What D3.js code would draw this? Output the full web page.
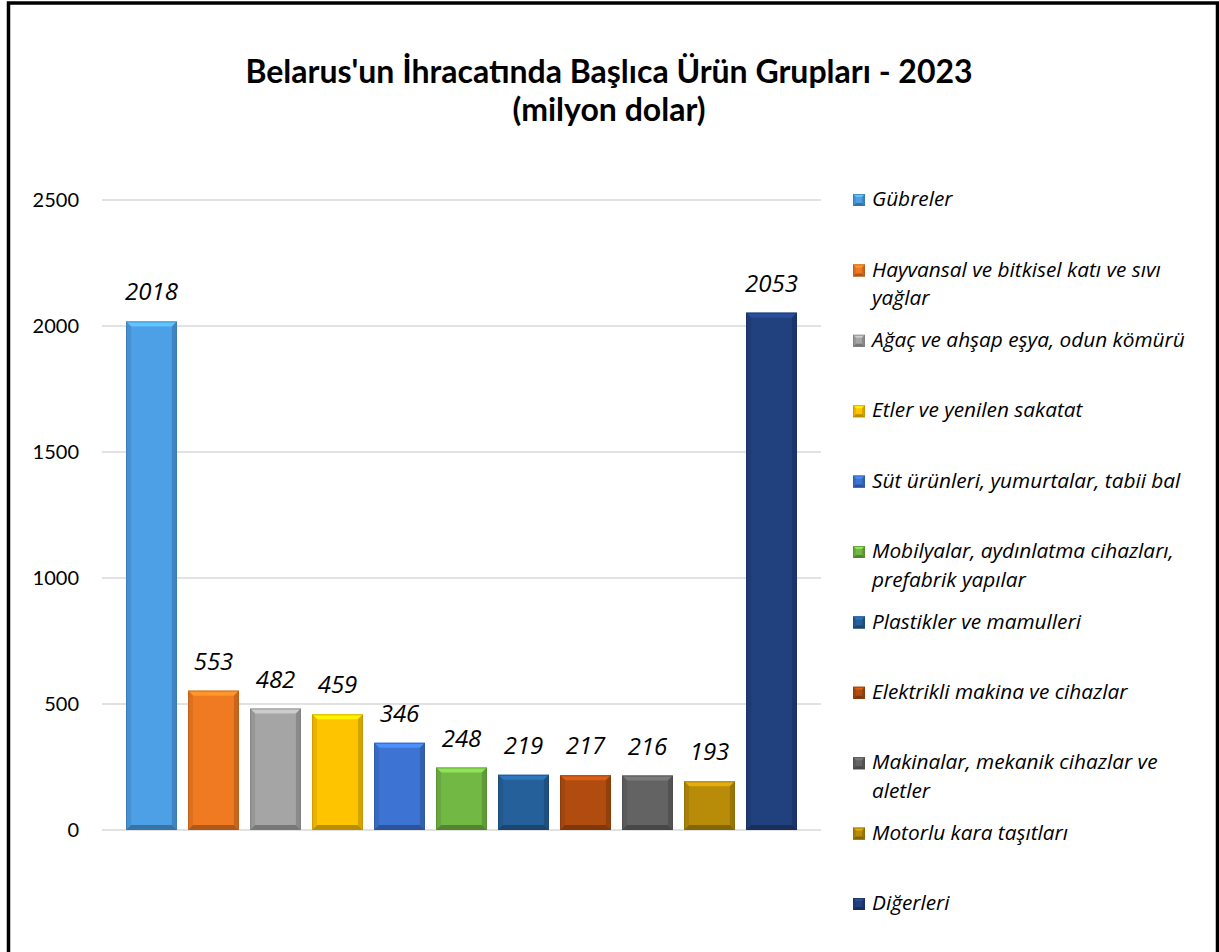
<!DOCTYPE html>
<html><head><meta charset="utf-8">
<script src="https://cdn.jsdelivr.net/npm/d3@7"></script>
<style>body{margin:0;background:#fff}svg{display:block}</style>
</head><body>
<script>
const categories = ["Gübreler","Hayvansal ve bitkisel katı ve sıvı yağlar","Ağaç ve ahşap eşya, odun kömürü","Etler ve yenilen sakatat","Süt ürünleri, yumurtalar, tabii bal","Mobilyalar, aydınlatma cihazları, prefabrik yapılar","Plastikler ve mamulleri","Elektrikli makina ve cihazlar","Makinalar, mekanik cihazlar ve aletler","Motorlu kara taşıtları","Diğerleri"];
const legendLines = [["Gübreler"],["Hayvansal ve bitkisel katı ve sıvı","yağlar"],["Ağaç ve ahşap eşya, odun kömürü"],["Etler ve yenilen sakatat"],["Süt ürünleri, yumurtalar, tabii bal"],["Mobilyalar, aydınlatma cihazları,","prefabrik yapılar"],["Plastikler ve mamulleri"],["Elektrikli makina ve cihazlar"],["Makinalar, mekanik cihazlar ve","aletler"],["Motorlu kara taşıtları"],["Diğerleri"]];
const values = [2018,553,482,459,346,248,219,217,216,193,2053];
const colors = ["#4d9fe6","#f07a22","#a5a5a5","#ffc400","#3d74d4","#72b844","#25609a","#b04c10","#636363","#b88c08","#21407e"];
const yTicks = [0,500,1000,1500,2000,2500];
const titleLines = ["Belarus'un İhracatında Başlıca Ürün Grupları - 2023","(milyon dolar)"];

const W=1219,H=952;
const svg=d3.select("body").append("svg").attr("width",W).attr("height",H);
const font="Lato, 'Noto Sans', sans-serif";
const font2="'Open Sans', 'Noto Sans', sans-serif";

svg.append("rect").attr("x",8.5).attr("y",3).attr("width",1209).attr("height",960)
  .attr("fill","#fff").attr("stroke","#000").attr("stroke-width",3.5);

svg.append("g").selectAll("text").data(titleLines).join("text")
  .attr("x",609).attr("y",(d,i)=>83+i*38).attr("text-anchor","middle")
  .attr("font-family",font).attr("font-weight","bold").attr("font-size",32)
  .text(d=>d);

const y=d3.scaleLinear().domain([0,2500]).range([830,200]);
const x=d3.scaleBand().domain(categories).range([120.5,802.5]).paddingInner(0.18).paddingOuter(0.09);
const gx0=102,gx1=821;

svg.append("g").selectAll("line").data(yTicks).join("line")
  .attr("x1",gx0).attr("x2",gx1).attr("y1",d=>y(d)).attr("y2",d=>y(d))
  .attr("stroke","#d9d9d9").attr("stroke-width",1.5);
svg.append("g").selectAll("text").data(yTicks).join("text")
  .attr("x",79).attr("y",d=>y(d)).attr("dy","0.35em").attr("text-anchor","end")
  .attr("font-family",font).attr("font-size",20).text(d=>d);

function bevel(g,x0,y0,w,h,c,b){
  const col=d3.color(c);
  const light=col.brighter(0.6), dark=col.darker(0.5), dark2=col.darker(0.9);
  g.append("rect").attr("x",x0).attr("y",y0).attr("width",w).attr("height",h).attr("fill",c);
  const p=pts=>pts.map(q=>q.join(",")).join(" ");
  g.append("polygon").attr("points",p([[x0,y0],[x0+w,y0],[x0+w-b,y0+b],[x0+b,y0+b]])).attr("fill",light);
  g.append("polygon").attr("points",p([[x0,y0],[x0+b,y0+b],[x0+b,y0+h-b],[x0,y0+h]])).attr("fill",col.darker(0.25));
  g.append("polygon").attr("points",p([[x0+w,y0],[x0+w-b,y0+b],[x0+w-b,y0+h-b],[x0+w,y0+h]])).attr("fill",dark);
  g.append("polygon").attr("points",p([[x0,y0+h],[x0+b,y0+h-b],[x0+w-b,y0+h-b],[x0+w,y0+h]])).attr("fill",dark2);
  g.append("rect").attr("x",x0+0.5).attr("y",y0+0.5).attr("width",w-1).attr("height",h-1)
    .attr("fill","none").attr("stroke",dark2).attr("stroke-opacity",0.6).attr("stroke-width",1);
}

const bars=svg.append("g");
categories.forEach((c,i)=>{
  const g=bars.append("g");
  bevel(g,x(c),y(values[i]),x.bandwidth(),y(0)-y(values[i]),colors[i],5);
});
svg.append("g").selectAll("text").data(categories).join("text")
  .attr("x",d=>x(d)+x.bandwidth()/2).attr("y",(d,i)=>y(values[i])-21)
  .attr("text-anchor","middle").attr("font-family",font2).attr("font-style","italic")
  .attr("font-size",24).text((d,i)=>values[i]);

const leg=svg.append("g");
const ly0=200, lstep=70.4;
categories.forEach((c,i)=>{
  const cy=ly0+i*lstep;
  const g=leg.append("g");
  bevel(g,853,cy-6,12,12,colors[i],3);
  g.selectAll("text").data(legendLines[i]).join("text")
    .attr("x",872).attr("y",(d,j)=>cy-1+j*28.5).attr("dy","0.35em")
    .attr("font-family",font2).attr("font-style","italic").attr("font-size",20.8).text(d=>d);
});
</script>
</body></html>
